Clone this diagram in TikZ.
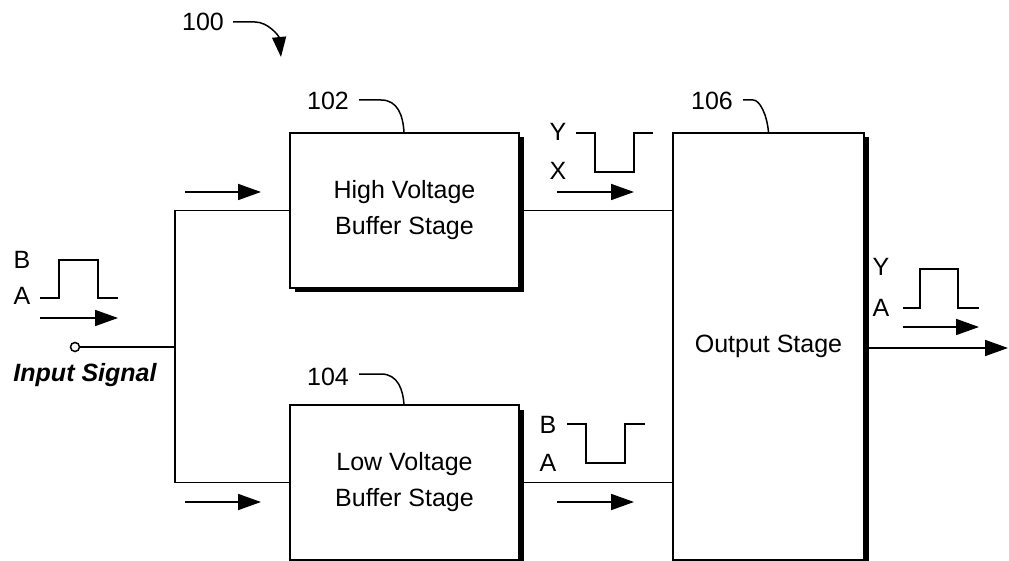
\documentclass[tikz,border=0pt]{standalone}
\usepackage{fontspec}
\setmainfont{Liberation Sans}
\usetikzlibrary{arrows.meta,shadows}
\begin{document}
\begin{tikzpicture}[x=1pt,y=-1pt,
  lbl/.style={font=\fontsize{25}{29}\selectfont, inner sep=0pt},
  stagebox/.style={draw, line width=1.5pt, fill=white, align=center,
    font=\fontsize{25}{36}\selectfont, inner sep=0pt,
    drop shadow={shadow xshift=4.5pt, shadow yshift=-4.5pt, fill=black, opacity=1}},
  wire/.style={line width=1.8pt},
  flow/.style={line width=1.8pt, -{Triangle[length=23pt,width=16pt]}},
  wave/.style={line width=1.8pt},
  leader/.style={line width=1.5pt}
]
\useasboundingbox[fill=white] (0,0) rectangle (1009,561);

% boxes
\node[stagebox, minimum width=229pt, minimum height=155pt] (b102) at (404.5,210.5) {High Voltage\\Buffer Stage};
\node[stagebox, minimum width=229pt, minimum height=155pt] (b104) at (404.5,482.5) {Low Voltage\\Buffer Stage};
\node[stagebox, minimum width=191pt, minimum height=427pt] (b106) at (768.5,346.5) {Output Stage};

% reference labels
\node[lbl] (l100) at (203,22) {100};
\node[lbl] (l102) at (328,101) {102};
\node[lbl] (l104) at (328,377) {104};
\node[lbl] (l106) at (712,101) {106};
\coordinate (t100) at (281,57);
\draw[leader,-{Triangle[length=20pt,width=14pt]}] (l100.east) ++(9,0) -- ++(22,0) .. controls (268,22) and (279,36) .. (t100);
\draw[leader] (l102.east) ++(10,-1) -- ++(22,0) .. controls (398,100) and (403,116) .. (b102.north -| 404,0);
\draw[leader] (l104.east) ++(10,-3) -- ++(22,0) .. controls (398,374) and (403,390) .. (b104.north -| 404,0);
\draw[leader] (l106.east) ++(10,-1) -- ++(10,0) .. controls (760,100) and (767,115) .. (b106.north);

% input
\node[draw, circle, line width=1.5pt, minimum size=9pt, inner sep=0pt] (in) at (75,347) {};
\node[font=\fontsize{25}{29}\selectfont\bfseries\itshape, inner sep=0pt] (insig) at (85,375) {Input Signal};
\coordinate (j) at (175,347);
\coordinate (jt) at (175,210.5);
\coordinate (jb) at (175,482.5);
\draw[wire] (in) -- (j);
\draw[wire] (b102.west) -- (jt) -- (jb) -- (b104.west);

% stage interconnects
\draw[wire] (b102.east) -- (b102.east -| b106.west);
\draw[wire] (b104.east) -- (b104.east -| b106.west);
\coordinate (out) at (1008,348);
\draw[flow] (b106.east |- out) ++(4.5,0) -- (out);

% flow arrows
\draw[flow] (185,192) -- (261,192);
\draw[flow] (185,502) -- (261,502);
\draw[flow] (40,318) -- (118,318);
\draw[flow] (557,192) -- (634,192);
\draw[flow] (557,502) -- (634,502);
\draw[flow] (903,327) -- (979,327);

% waveforms and their level labels
\node[lbl] (iB) at (22,260) {B};
\node[lbl] (iA) at (22,296) {A};
\draw[wave] (40,298) -- (59,298) -- (59,260) -- (98,260) -- (98,298) -- (118,298);

\node[lbl] (hY) at (558,132) {Y};
\node[lbl] (hX) at (558,171) {X};
\draw[wave] (576,133) -- (595,133) -- (595,172) -- (634,172) -- (634,133) -- (653,133);

\node[lbl] (lB) at (548,425) {B};
\node[lbl] (lA) at (548,463) {A};
\draw[wave] (567,424) -- (586,424) -- (586,463) -- (625,463) -- (625,424) -- (645,424);

\node[lbl] (oY) at (881,267) {Y};
\node[lbl] (oA) at (881,308) {A};
\draw[wave] (903,308) -- (920,308) -- (920,269) -- (958,269) -- (958,308) -- (979,308);
\end{tikzpicture}
\end{document}
